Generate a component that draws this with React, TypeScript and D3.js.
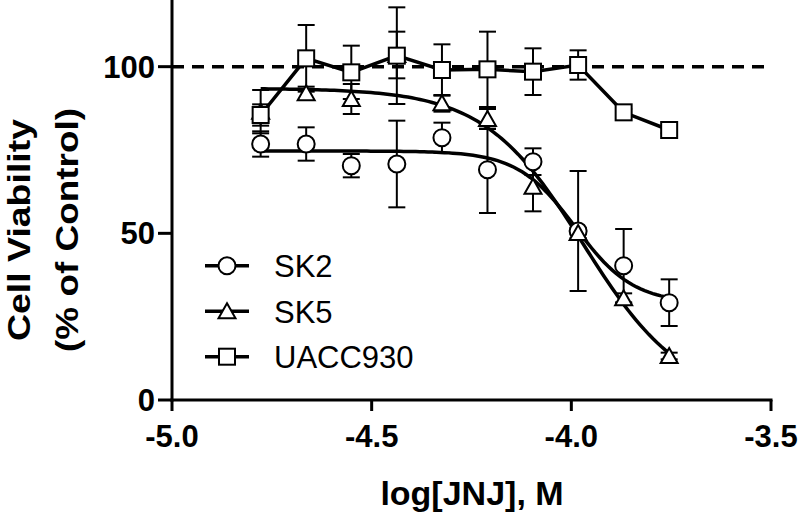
import React from 'react';
import * as d3 from 'd3';

// log concentration of JNJ (M)
const logDose = [-4.778, -4.664, -4.551, -4.437, -4.324, -4.21, -4.096, -3.983, -3.869, -3.755];

const sk2 = [76.8, 76.8, 70.3, 70.8, 78.7, 69.1, 71.5, 50.7, 40.3, 29.2];
const sk2Err = [3.8, 5, 3.5, 13, 4.5, 13, 4, 18, 11, 7];

const sk5 = [86.5, 92, 90.3, 103.5, 89, 84.3, 64, 50.1, 30.5, 13.2];
const sk5Err = [6.5, 2, 4.5, 7, 2.5, 3, 7.4, 1.5, 1.5, 1];

const uacc930 = [85.5, 102.5, 98.3, 103.3, 99, 99.2, 98.5, 100.5, 86.3, 81];
const uacc930Err = [3.2, 10, 8, 14.5, 7.7, 11.3, 7, 4.4, 1, 1];

// four-parameter logistic fits [top, bottom, logIC50, hill]
const sk2Fit = [74.7, 29, -3.99, 6];
const sk5Fit = [93.5, 0, -3.97, 3.5];

const xTicks = [-5.0, -4.5, -4.0, -3.5];
const yTicks = [0, 50, 100];
const legendNames = ['SK2', 'SK5', 'UACC930'];

const FONT = '"Liberation Sans", Arial, Helvetica, sans-serif';

const logistic = (p: number[]) => (x: number) =>
  p[1] + (p[0] - p[1]) / (1 + Math.pow(10, (x - p[2]) * p[3]));

const Marker = ({ shape, cx, cy }: { shape: string; cx: number; cy: number }) => {
  const common = { fill: 'white', stroke: 'black', strokeWidth: 2 };
  if (shape === 'circle') return <circle cx={cx} cy={cy} r={8.5} {...common} />;
  if (shape === 'square') return <rect x={cx - 8} y={cy - 8} width={16} height={16} {...common} />;
  return <path d={`M${cx},${cy - 8}L${cx + 8.5},${cy + 7}L${cx - 8.5},${cy + 7}Z`} {...common} />;
};

export default function App() {
  const width = 800;
  const height = 522;
  const x = d3.scaleLinear().domain([-5, -3.5]).range([172, 771]);
  const y = d3.scaleLinear().domain([0, 120]).range([400, 0]);

  const series = [
    { name: 'SK2', values: sk2, err: sk2Err, shape: 'circle' },
    { name: 'SK5', values: sk5, err: sk5Err, shape: 'triangle' },
    { name: 'UACC930', values: uacc930, err: uacc930Err, shape: 'square' },
  ];

  const curveLine = d3
    .line<number>()
    .x((d) => x(d[0]))
    .y((d) => y(d[1]));

  const fitPath = (p: number[]) => {
    const f = logistic(p);
    const lo = logDose[0];
    const hi = logDose[logDose.length - 1];
    const pts = d3.range(0, 101).map((i) => {
      const v = lo + ((hi - lo) * i) / 100;
      return [v, f(v)];
    });
    return curveLine(pts as any);
  };

  const uaccPath = curveLine(logDose.map((d, i) => [d, uacc930[i]]) as any);

  return (
    <svg
      width={width}
      height={height}
      style={{ position: 'absolute', left: 0, top: 0, background: 'white' }}
      fontFamily={FONT}
    >
      {/* reference line at 100% */}
      <line
        x1={x(-5)}
        x2={x(-3.5)}
        y1={y(100)}
        y2={y(100)}
        stroke="black"
        strokeWidth={3.5}
        strokeDasharray="12,8"
      />

      {/* error bars */}
      {series.map((s) =>
        s.values.map((v, i) => (
          <g key={s.name + i} stroke="black" strokeWidth={2}>
            <line x1={x(logDose[i])} x2={x(logDose[i])} y1={y(v - s.err[i])} y2={y(v + s.err[i])} />
            <line x1={x(logDose[i]) - 8.5} x2={x(logDose[i]) + 8.5} y1={y(v + s.err[i])} y2={y(v + s.err[i])} />
            <line x1={x(logDose[i]) - 8.5} x2={x(logDose[i]) + 8.5} y1={y(v - s.err[i])} y2={y(v - s.err[i])} />
          </g>
        ))
      )}

      {/* fitted curves and connecting line */}
      <path d={fitPath(sk2Fit) || ''} fill="none" stroke="black" strokeWidth={3.5} />
      <path d={fitPath(sk5Fit) || ''} fill="none" stroke="black" strokeWidth={3.5} />
      <path d={uaccPath || ''} fill="none" stroke="black" strokeWidth={3.5} />

      {/* markers */}
      {series.map((s) =>
        s.values.map((v, i) => <Marker key={s.name + 'm' + i} shape={s.shape} cx={x(logDose[i])} cy={y(v)} />)
      )}

      {/* axes */}
      <line x1={x(-5)} x2={x(-5)} y1={y(120)} y2={y(0) + 1.5} stroke="black" strokeWidth={3} />
      <line x1={x(-5) - 1.5} x2={x(-3.5) + 1.5} y1={y(0)} y2={y(0)} stroke="black" strokeWidth={3} />
      {xTicks.map((t) => (
        <g key={'xt' + t}>
          <line x1={x(t)} x2={x(t)} y1={y(0)} y2={y(0) + 11} stroke="black" strokeWidth={3} />
          <text x={x(t)} y={447} textAnchor="middle" fontSize={31} fontWeight="bold">
            {t.toFixed(1)}
          </text>
        </g>
      ))}
      {yTicks.map((t) => (
        <g key={'yt' + t}>
          <line x1={x(-5) - 14} x2={x(-5)} y1={y(t)} y2={y(t)} stroke="black" strokeWidth={3} />
          <text x={155} y={y(t) + 11} textAnchor="end" fontSize={31} fontWeight="bold">
            {t}
          </text>
        </g>
      ))}

      {/* axis titles */}
      <text x={472} y={505} textAnchor="middle" fontSize={34} fontWeight="bold">
        log[JNJ], M
      </text>
      <g transform="translate(30,230) rotate(-90)">
        <text
          x={0}
          y={0}
          textAnchor="middle"
          fontSize={32}
          fontWeight="bold"
          textLength={222}
          lengthAdjust="spacingAndGlyphs"
        >
          Cell Viability
        </text>
        <text
          x={0}
          y={48}
          textAnchor="middle"
          fontSize={32}
          fontWeight="bold"
          textLength={244}
          lengthAdjust="spacingAndGlyphs"
        >
          (% of Control)
        </text>
      </g>

      {/* legend */}
      {series.map((s, i) => {
        const ly = 265.7 + i * 45.5;
        return (
          <g key={'lg' + s.name}>
            <line x1={205} x2={249} y1={ly} y2={ly} stroke="black" strokeWidth={3.5} />
            <Marker shape={s.shape} cx={227} cy={ly} />
            <text x={274} y={ly + 11.5} fontSize={31}>
              {legendNames[i]}
            </text>
          </g>
        );
      })}
    </svg>
  );
}
